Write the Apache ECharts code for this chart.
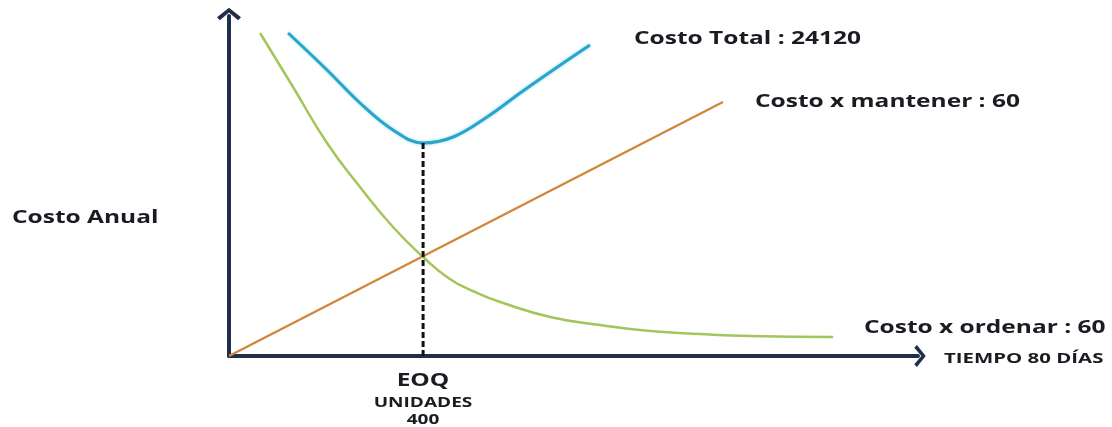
<!DOCTYPE html>
<html>
<head>
<meta charset="utf-8">
<script src="https://cdn.jsdelivr.net/npm/echarts@6/dist/echarts.min.js"></script>
<style>
  html, body { margin: 0; padding: 0; background: #ffffff; }
  #chart { width: 1112px; height: 427px; }
</style>
</head>
<body>
<div id="chart"></div>
<script>
// Costo x ordenar (ordering cost) — falls as order size grows
const orderUnits = [64, 132, 202, 270, 338, 400, 455, 507, 559, 662, 765, 868, 971, 1074, 1245];
const orderCost  = [323, 269, 213, 169, 129, 99, 77, 64, 54, 39, 31, 25, 22, 20, 19];

// Costo x mantener (holding cost) — straight line from the origin
const holdUnits = [0, 1018];
const holdCost  = [0, 254];

// Costo total — sum curve with its minimum at the EOQ
const totalUnits = [122, 202, 270, 338, 400, 462, 532, 600, 668, 744];
const totalCost  = [323, 286, 253, 226, 213, 219, 239, 263, 286, 311];

// Economic order quantity and the cost at that point
const eoqUnits = 400;
const eoqCost = 213;

// Texts
const labelTotal = 'Costo Total : 24120';
const labelHold = 'Costo x mantener : 60';
const labelOrder = 'Costo x ordenar : 60';
const labelYAxis = 'Costo Anual';
const labelXAxis = 'TIEMPO 80 DÍAS';
const labelEoq = 'EOQ';
const labelUnits = 'UNIDADES';
const labelEoqValue = String(eoqUnits);

const pair = (xs, ys) => xs.map((x, i) => [x, ys[i]]);

const AXIS_COLOR = '#1f2f4b';
const TEXT_COLOR = '#1b1b22';
const FONT = '"Open Sans", "Liberation Sans", sans-serif';
const STRETCH = 1.36;

const chevron = 'path://M0,0 L10,8 L7.6,10.4 L0,4 L-7.6,10.4 L-10,8 Z';

function text(str, x, y, size, align) {
  return {
    type: 'text',
    x: x, y: y,
    scaleX: STRETCH,
    silent: true,
    style: {
      text: str,
      fill: TEXT_COLOR,
      fontFamily: FONT,
      fontWeight: 'bold',
      fontSize: size,
      align: align || 'left',
      verticalAlign: 'middle'
    }
  };
}

const chart = echarts.init(document.getElementById('chart'), null, { renderer: 'canvas' });

chart.setOption({
  animation: false,
  backgroundColor: '#ffffff',
  grid: { left: 229, right: 194, top: 16, bottom: 71, containLabel: false },
  xAxis: {
    type: 'value',
    min: 0,
    max: 1420,
    axisLine: {
      show: true,
      onZero: false,
      symbol: ['none', chevron],
      symbolSize: [22, 16],
      symbolOffset: [0, 2],
      lineStyle: { color: AXIS_COLOR, width: 4 }
    },
    axisTick: { show: false },
    axisLabel: { show: false },
    splitLine: { show: false }
  },
  yAxis: {
    type: 'value',
    min: 0,
    max: 340,
    axisLine: {
      show: true,
      onZero: false,
      symbol: ['none', chevron],
      symbolSize: [24, 16],
      symbolOffset: [0, 2],
      lineStyle: { color: AXIS_COLOR, width: 4 }
    },
    axisTick: { show: false },
    axisLabel: { show: false },
    splitLine: { show: false }
  },
  series: [
    {
      name: 'Costo x mantener',
      type: 'line',
      data: pair(holdUnits, holdCost),
      showSymbol: false,
      lineStyle: { color: '#d2873e', width: 2.5 },
      z: 3
    },
    {
      name: 'Costo x ordenar',
      type: 'line',
      data: pair(orderUnits, orderCost),
      smooth: 0.5,
      showSymbol: false,
      lineStyle: { color: '#a3c55c', width: 2.5 },
      z: 3
    },
    {
      name: 'Costo total',
      type: 'line',
      data: pair(totalUnits, totalCost),
      smooth: 0.4,
      showSymbol: false,
      lineStyle: {
        color: '#2ba4c9',
        width: 3,
        shadowColor: 'rgba(90, 205, 240, 0.7)',
        shadowBlur: 3
      },
      z: 3
    },
    {
      name: 'EOQ',
      type: 'line',
      data: [[eoqUnits, 0], [eoqUnits, eoqCost]],
      showSymbol: false,
      lineStyle: { color: '#111111', width: 3, type: [6, 3] },
      z: 4
    }
  ],
  graphic: [
    text(labelTotal, 634, 39, 18),
    text(labelHold, 755, 102, 18),
    text(labelOrder, 864, 328, 18),
    text(labelYAxis, 12, 218, 18),
    text(labelXAxis, 944, 359, 15),
    text(labelEoq, 423, 381, 18, 'center'),
    text(labelUnits, 423, 403, 14, 'center'),
    text(labelEoqValue, 423, 420, 14, 'center')
  ]
});
</script>
</body>
</html>
